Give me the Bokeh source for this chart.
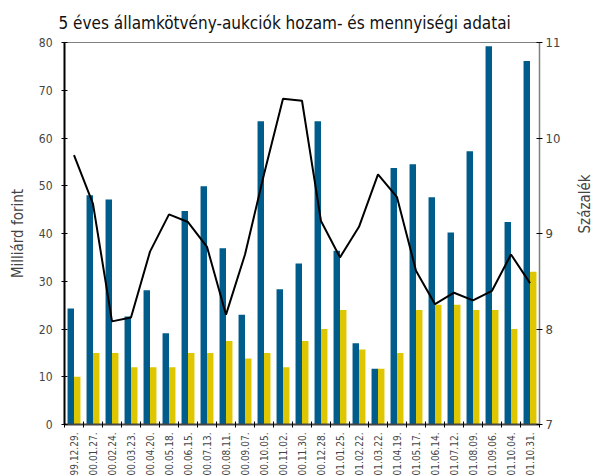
import math
import numpy as np
from bokeh.plotting import figure
from bokeh.layouts import row
from bokeh.models import Range1d, LinearAxis, FixedTicker, ColumnDataSource, Spacer
from bokeh.transform import dodge
from bokeh.embed import file_html
from bokeh.resources import INLINE

# ---- data ----
dates = ["99.12.29.", "00.01.27.", "00.02.24.", "00.03.23.", "00.04.20.",
         "00.05.18.", "00.06.15.", "00.07.13.", "00.08.11.", "00.09.07.",
         "00.10.05.", "00.11.02.", "00.11.30.", "00.12.28.", "01.01.25.",
         "01.02.22.", "01.03.22.", "01.04.19.", "01.05.17.", "01.06.14.",
         "01.07.12.", "01.08.09.", "01.09.06.", "01.10.04.", "01.10.31."]
bids = [24.3, 48.0, 47.1, 22.6, 28.1, 19.1, 44.7, 49.9, 36.9, 23.0,
        63.5, 28.3, 33.7, 63.5, 36.4, 17.0, 11.7, 53.7, 54.5, 47.6,
        40.2, 57.2, 79.2, 42.4, 76.1]
accepted = [10.0, 15.0, 15.0, 12.0, 12.0, 12.0, 15.0, 15.0, 17.5, 13.8,
            15.0, 12.0, 17.5, 20.0, 24.0, 15.7, 11.7, 15.0, 24.0, 25.1,
            25.1, 24.0, 24.0, 20.0, 32.0]
avg_yield = [9.82, 9.31, 8.08, 8.12, 8.81, 9.20, 9.12, 8.86, 8.15, 8.78,
             9.62, 10.41, 10.39, 9.13, 8.75, 9.07, 9.62, 9.38, 8.61, 8.26,
             8.38, 8.30, 8.40, 8.78, 8.48]
left_ticks = [0, 10, 20, 30, 40, 50, 60, 70, 80]
right_ticks = [7, 8, 9, 10, 11]

BLUE = "#005C8A"
YELLOW = "#DEC700"
FONT = "Liberation Sans Narrow, DejaVu Sans Condensed, Liberation Sans, sans-serif"

n = len(dates)
idx = list(range(n))
src = ColumnDataSource(dict(x=idx, bids=bids, acc=accepted, yld=avg_yield))

p = figure(frame_width=475, frame_height=382,
           x_range=Range1d(-0.5, n - 0.5), y_range=Range1d(0, 80),
           output_backend="svg", toolbar_location=None,
           min_border_left=40, min_border_right=46,
           min_border_top=42, min_border_bottom=40)
p.extra_y_ranges = {"pct": Range1d(7, 11)}

p.vbar(x=dodge("x", -0.17, range=p.x_range), top="bids", width=0.34,
       source=src, fill_color=BLUE, line_color=None)
p.vbar(x=dodge("x", 0.17, range=p.x_range), top="acc", width=0.34,
       source=src, fill_color=YELLOW, line_color=None)
p.line(x="x", y="yld", source=src, y_range_name="pct",
       line_color="black", line_width=2)

p.xgrid.visible = False
p.ygrid.visible = False
p.outline_line_color = "#808080"
p.outline_line_width = 1

# title
p.title.text = "5 éves államkötvény-aukciók hozam- és mennyiségi adatai"
p.title.text_font = FONT
p.title.text_font_size = "17px"
p.title.text_font_style = "normal"
p.title.text_color = "#111111"
p.title.align = "left"
p.title.offset = -6
p.title.standoff = 20

# x axis
xa = p.xaxis[0]
xa.ticker = FixedTicker(ticks=idx, minor_ticks=[i - 0.5 for i in range(n + 1)])
xa.major_label_overrides = {i: d for i, d in zip(idx, dates)}
xa.major_label_orientation = math.pi / 2
xa.major_tick_line_color = None
xa.major_tick_in = 0
xa.major_tick_out = 0
xa.minor_tick_line_color = "black"
xa.minor_tick_in = 3
xa.minor_tick_out = 3
xa.major_label_standoff = 5
xa.major_label_text_font = FONT
xa.major_label_text_font_size = "10px"
xa.axis_line_color = "#444444"
xa.axis_line_width = 2

# left axis
ya = p.yaxis[0]
ya.ticker = FixedTicker(ticks=left_ticks)
ya.minor_tick_line_color = None
ya.major_tick_in = 3
ya.major_tick_out = 3
ya.major_label_standoff = 9
ya.major_label_text_font = FONT
ya.major_label_text_font_size = "12px"
ya.axis_line_color = "black"
ya.axis_line_width = 2
ya.axis_label = "Milliárd forint"
ya.axis_label_text_font = FONT
ya.axis_label_text_font_size = "15px"
ya.axis_label_text_font_style = "normal"
ya.axis_label_standoff = 9

# right axis
ra = LinearAxis(y_range_name="pct", ticker=FixedTicker(ticks=right_ticks))
ra.minor_tick_line_color = None
ra.major_tick_in = 3
ra.major_tick_out = 3
ra.major_label_standoff = 3
ra.major_label_text_font = FONT
ra.major_label_text_font_size = "13px"
ra.axis_line_color = "#808080"
ra.axis_line_width = 1.5
ra.axis_label = "Százalék"
ra.axis_label_text_font = FONT
ra.axis_label_text_font_size = "15px"
ra.axis_label_text_font_style = "normal"
ra.axis_label_standoff = 22
ra.axis_label_orientation = math.pi / 2
p.add_layout(ra, "right")

layout = row(Spacer(width=5, height=10), p)
open("out.html", "w").write(file_html(layout, INLINE))
